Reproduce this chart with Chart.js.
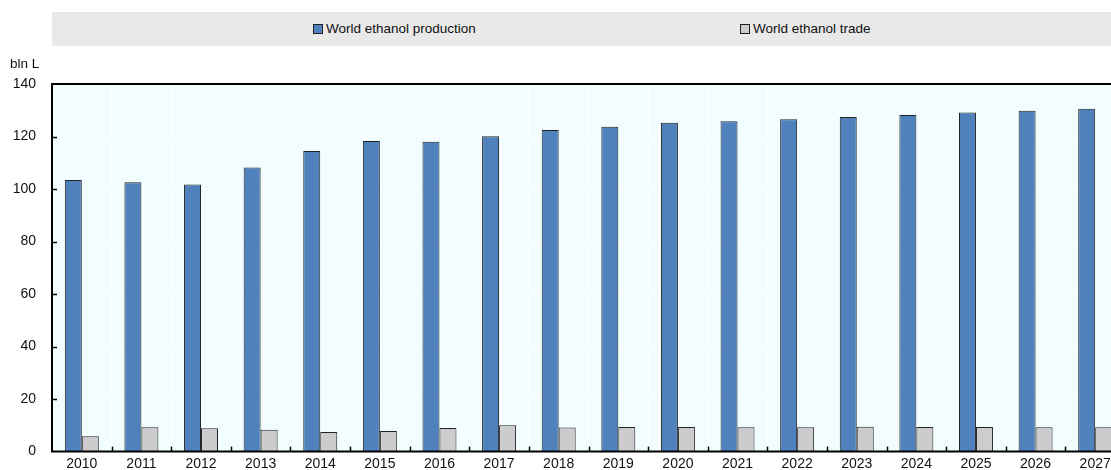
<!DOCTYPE html>
<html>
<head>
<meta charset="utf-8">
<script src="https://cdn.jsdelivr.net/npm/chart.js@4/dist/chart.umd.min.js"></script>
<style>
  html, body { margin: 0; padding: 0; background: #fff; overflow: hidden; }
  #wrap { position: relative; width: 1140px; height: 476px; }
  #legend {
    position: absolute; left: 52px; top: 12px; width: 1073px; height: 34px;
    background: #E9E9E9; font-family: "Liberation Sans", Arial, sans-serif;
    font-size: 13.5px; color: #111;
  }
  .item { position: absolute; top: 9px; white-space: nowrap; line-height: 16px; }
  .box { display: inline-block; width: 8px; height: 8px; border: 1px solid #222;
         vertical-align: -1px; margin-right: 3px; }
</style>
</head>
<body>
<div id="wrap">
  <canvas id="c"></canvas>
  <div id="legend">
    <div class="item" style="left:261px"><span class="box" style="background:#4F81BD"></span>World ethanol production</div>
    <div class="item" style="left:688px"><span class="box" style="background:#CCCCCC"></span>World ethanol trade</div>
  </div>
</div>
<script>
const years = ['2010','2011','2012','2013','2014','2015','2016','2017','2018','2019','2020','2021','2022','2023','2024','2025','2026','2027'];
const production = [103.4, 102.6, 101.7, 108.2, 114.5, 118.3, 118.0, 120.1, 122.5, 123.7, 125.2, 125.8, 126.6, 127.4, 128.2, 129.1, 129.8, 130.6];
const trade = [5.8, 9.3, 8.9, 8.3, 7.5, 7.8, 9.0, 10.0, 9.2, 9.4, 9.4, 9.3, 9.3, 9.5, 9.4, 9.4, 9.3, 9.3];
const yTicks = [0, 20, 40, 60, 80, 100, 120, 140];
const unitLabel = 'bln L';

const FONT = '"Liberation Sans", Arial, sans-serif';

const decor = {
  id: 'decor',
  beforeDraw(chart) {
    const {ctx, chartArea: a} = chart;
    ctx.save();
    ctx.fillStyle = '#F1FDFF';
    ctx.fillRect(a.left, a.top, a.right - a.left, a.bottom - a.top);
    ctx.restore();
  },
  afterDatasetsDraw(chart) {
    const {ctx, chartArea: a, scales} = chart;
    const x = scales.x, y = scales.y;
    ctx.save();
    ctx.strokeStyle = '#000';
    ctx.lineWidth = 1.5;
    yTicks.forEach(v => {
      if (v === 0 || v === 140) return;
      const py = Math.round(y.getPixelForValue(v)) + 0.5;
      ctx.beginPath(); ctx.moveTo(a.left, py); ctx.lineTo(a.left + 5, py); ctx.stroke();
    });
    const half = (x.getPixelForValue(1) - x.getPixelForValue(0)) / 2;
    for (let i = 1; i < years.length; i++) {
      const px = Math.round(x.getPixelForValue(i) - half) + 0.5;
      ctx.beginPath(); ctx.moveTo(px, a.bottom); ctx.lineTo(px, a.bottom - 5); ctx.stroke();
    }
    ctx.lineWidth = 2;
    ctx.beginPath();
    ctx.moveTo(a.left, a.top); ctx.lineTo(a.right, a.top);
    ctx.moveTo(a.left, a.top - 1); ctx.lineTo(a.left, a.bottom + 1);
    ctx.moveTo(a.left - 1, a.bottom); ctx.lineTo(a.right, a.bottom);
    ctx.stroke();
    ctx.fillStyle = '#111';
    ctx.font = '13.5px ' + FONT;
    ctx.textBaseline = 'middle';
    ctx.textAlign = 'left';
    ctx.fillText(unitLabel, 10, 64);
    ctx.restore();
  }
};

new Chart(document.getElementById('c'), {
  type: 'bar',
  data: {
    labels: years,
    datasets: [
      { label: 'World ethanol production', data: production, backgroundColor: '#4F81BD',
        borderColor: '#222', borderWidth: 1, categoryPercentage: 0.57, barPercentage: 1.0 },
      { label: 'World ethanol trade', data: trade, backgroundColor: '#CCCCCC',
        borderColor: '#222', borderWidth: 1, categoryPercentage: 0.57, barPercentage: 1.0 }
    ]
  },
  options: {
    responsive: true,
    maintainAspectRatio: false,
    animation: false,
    layout: { padding: { top: 84, right: 15, left: 0, bottom: 0 } },
    plugins: { legend: { display: false }, tooltip: { enabled: false } },
    scales: {
      x: {
        grid: { color: 'rgba(255,255,255,0.9)', lineWidth: 1, drawTicks: false, offset: true },
        border: { display: false },
        ticks: { color: '#111', font: { family: FONT, size: 14 }, padding: 4, maxRotation: 0, autoSkip: false },
        afterFit(s) { s.height = 19; }
      },
      y: {
        min: 0, max: 140,
        afterBuildTicks(s) { s.ticks = yTicks.map(v => ({ value: v })); },
        grid: { color: '#FFFFFF', lineWidth: 1, drawTicks: false },
        border: { display: false },
        ticks: { color: '#111', font: { family: FONT, size: 14 }, padding: 16 },
        afterFit(s) { s.width = 52; }
      }
    }
  },
  plugins: [decor]
});
</script>
</body>
</html>
